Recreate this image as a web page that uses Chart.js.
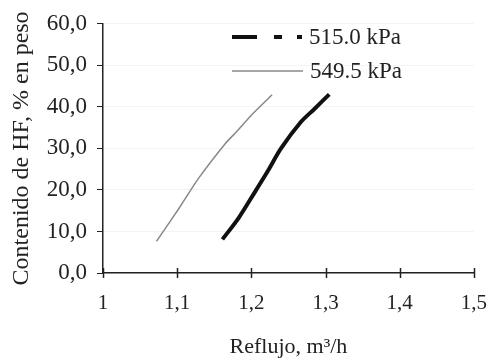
<!DOCTYPE html>
<html lang="es">
  <head>
    <meta charset="UTF-8" />
    <title>Contenido de HF vs reflujo</title>
    <script src="https://cdn.jsdelivr.net/npm/chart.js"></script>
    <style>
      body {
        margin: 0;
        background: #fff;
      }
      #wrap {
        width: 497px;
        height: 360px;
      }
    </style>
  </head>
  <body>
    <div id="wrap"><canvas id="myChart"></canvas></div>
    <script>
      // Data
      const reflux515 = [1.161, 1.183, 1.203, 1.222, 1.24, 1.267, 1.285, 1.305];
      const hf515 = [8.1, 13.3, 19.0, 24.5, 30.0, 36.4, 39.5, 43.0];
      const reflux549 = [1.072, 1.103, 1.128, 1.165, 1.18, 1.2, 1.228];
      const hf549 = [7.6, 15.7, 22.6, 31.2, 34.0, 38.0, 42.9];
      const seriesLabels = ["515.0 kPa", "549.5 kPa"];
      const xTicks = [1, 1.1, 1.2, 1.3, 1.4, 1.5];
      const xTickLabels = ["1", "1,1", "1,2", "1,3", "1,4", "1,5"];
      const yTickLabels = ["0,0", "10,0", "20,0", "30,0", "40,0", "50,0", "60,0"];

      const serif = "'Liberation Serif', 'Times New Roman', serif";

      function toPoints(xs, ys) {
        return xs.map((x, i) => ({ x: x, y: ys[i] }));
      }

      // legend drawn inside the plot area, like the original
      const legendInside = {
        id: "legendInside",
        afterDraw(chart) {
          const ctx = chart.ctx;
          ctx.save();
          ctx.font = "23px " + serif;
          ctx.fillStyle = "#222";
          ctx.textBaseline = "middle";

          ctx.strokeStyle = "#111";
          ctx.lineWidth = 4;
          ctx.setLineDash([25, 17, 8, 15, 5]);
          ctx.beginPath();
          ctx.moveTo(232, 37);
          ctx.lineTo(302, 37);
          ctx.stroke();
          ctx.fillText(seriesLabels[0], 309, 38);

          ctx.setLineDash([]);
          ctx.strokeStyle = "#888";
          ctx.lineWidth = 1.5;
          ctx.beginPath();
          ctx.moveTo(232, 71);
          ctx.lineTo(303, 71);
          ctx.stroke();
          ctx.fillText(seriesLabels[1], 310, 72);
          ctx.restore();
        },
      };

      // x ticks cross the axis line
      const crossTicks = {
        id: "crossTicks",
        afterDraw(chart) {
          const ctx = chart.ctx;
          const xs = chart.scales.x;
          const yb = chart.chartArea.bottom;
          ctx.save();
          ctx.strokeStyle = "#222";
          ctx.lineWidth = 1.5;
          xTicks.forEach((v) => {
            const px = Math.round(xs.getPixelForValue(v)) + 0.5;
            ctx.beginPath();
            ctx.moveTo(px, yb - 5);
            ctx.lineTo(px, yb + 5);
            ctx.stroke();
          });
          ctx.restore();
        },
      };

      const ctx = document.getElementById("myChart").getContext("2d");
      new Chart(ctx, {
        type: "scatter",
        data: {
          datasets: [
            {
              label: seriesLabels[0],
              data: toPoints(reflux515, hf515),
              showLine: true,
              borderColor: "#111",
              borderWidth: 4,
              pointRadius: 0,
              tension: 0.3,
            },
            {
              label: seriesLabels[1],
              data: toPoints(reflux549, hf549),
              showLine: true,
              borderColor: "#888",
              borderWidth: 1.5,
              pointRadius: 0,
              tension: 0.2,
            },
          ],
        },
        options: {
          responsive: true,
          maintainAspectRatio: false,
          animation: false,
          layout: {
            padding: { top: 21, right: 19, left: 0, bottom: 0 },
          },
          plugins: {
            legend: { display: false },
            tooltip: { enabled: false },
          },
          scales: {
            x: {
              type: "linear",
              min: 1,
              max: 1.5,
              afterBuildTicks(scale) {
                scale.ticks = xTicks.map((v) => ({ value: v }));
              },
              afterFit(scale) {
                scale.height = 87;
              },
              border: { display: true, color: "#222", width: 1.5 },
              grid: { display: false },
              ticks: {
                color: "#222",
                padding: 10,
                maxRotation: 0,
                font: { family: serif, size: 21 },
                callback: (v) => xTickLabels[xTicks.indexOf(v)],
              },
              title: {
                display: true,
                text: "Reflujo, m³/h",
                color: "#222",
                padding: { top: 0, bottom: 0 },
                font: { family: serif, size: 22 },
              },
            },
            y: {
              min: 0,
              max: 60,
              afterFit(scale) {
                scale.width = 103;
              },
              border: { display: true, color: "#222", width: 1.5 },
              grid: {
                drawOnChartArea: true,
                color: "#f3f3f3",
                tickColor: "#222",
                tickLength: 6,
              },
              ticks: {
                stepSize: 10,
                color: "#222",
                padding: 10,
                font: { family: serif, size: 23 },
                callback: (v) => yTickLabels[v / 10],
              },
              title: {
                display: true,
                text: "Contenido de HF, % en peso",
                color: "#222",
                padding: { top: 7, bottom: 0 },
                font: { family: serif, size: 24 },
              },
            },
          },
        },
        plugins: [legendInside, crossTicks],
      });
    </script>
  </body>
</html>
